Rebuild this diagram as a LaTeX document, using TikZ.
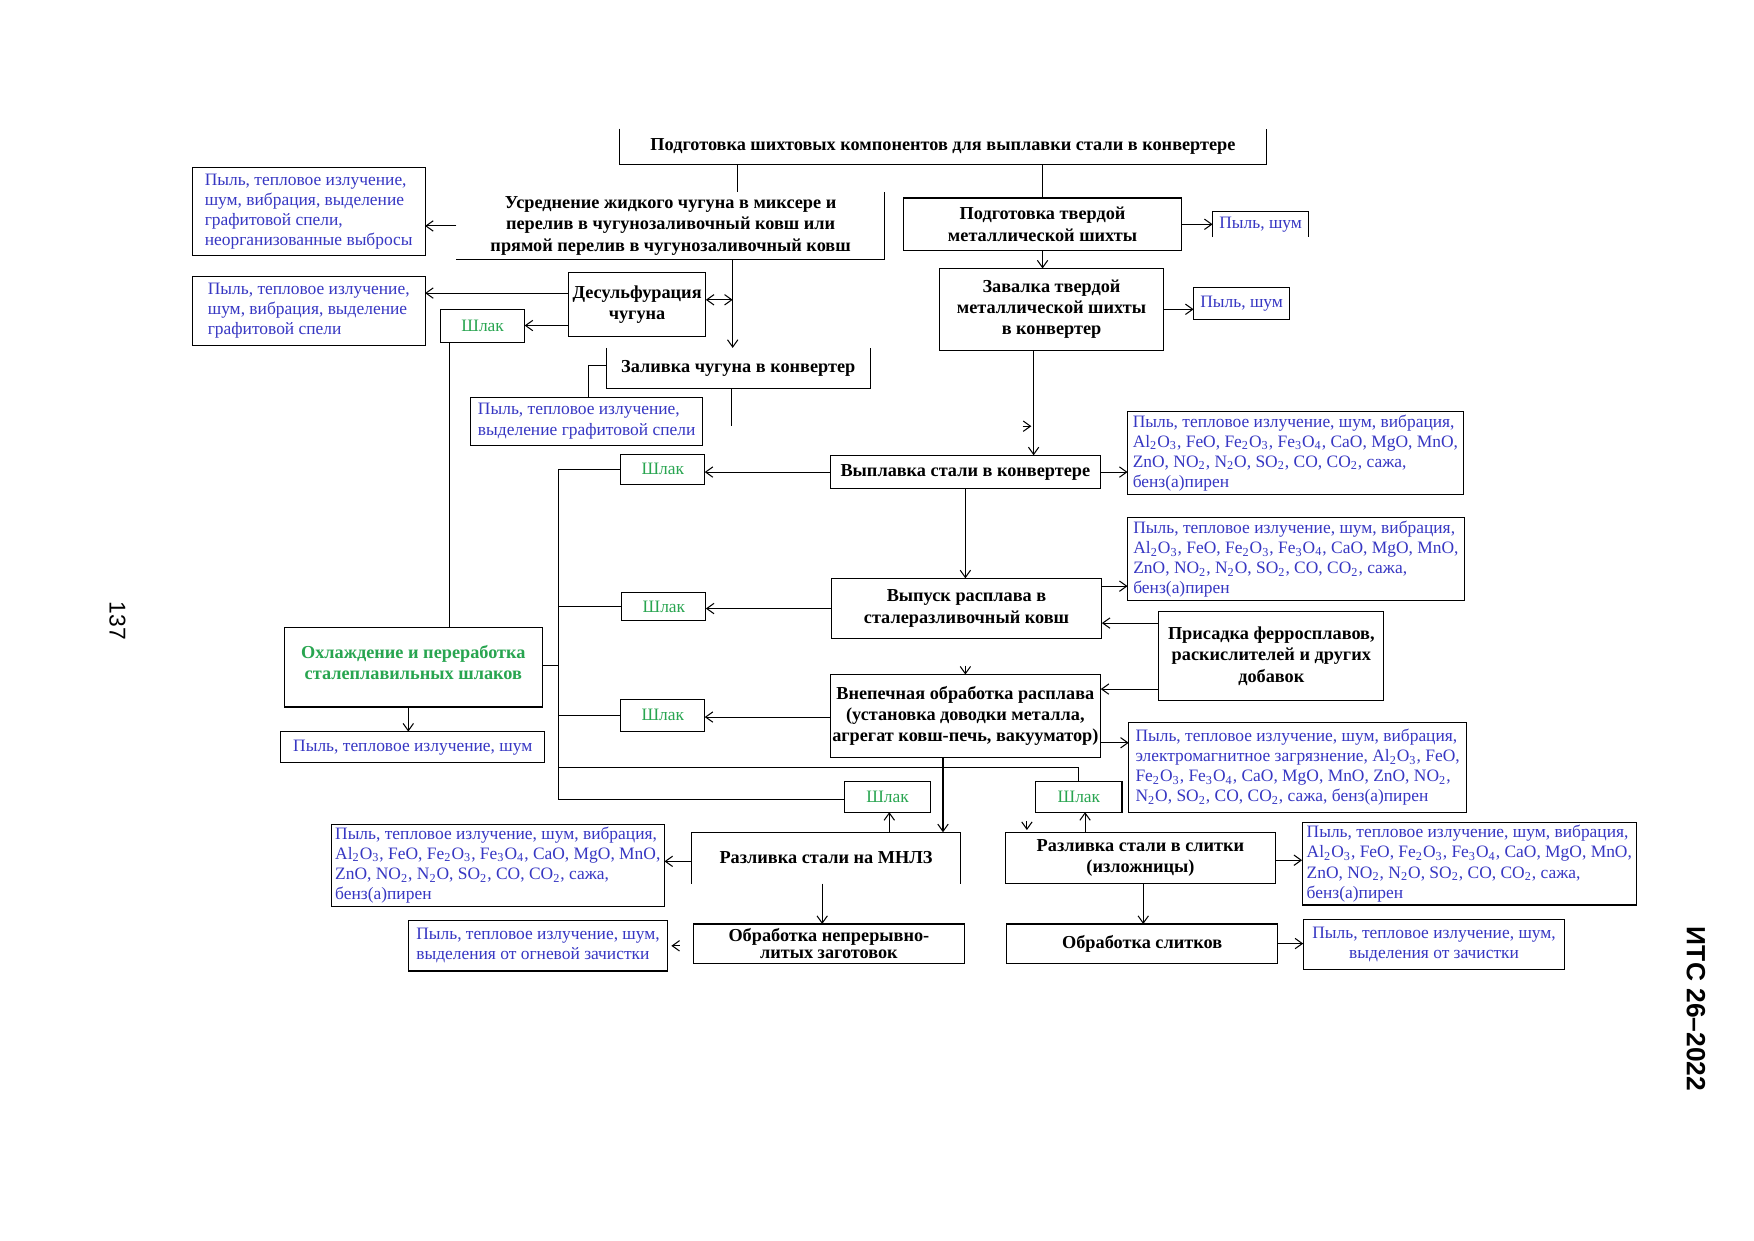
\documentclass[tikz,border=0pt]{standalone}
\usepackage{fontspec}
\setmainfont{Liberation Serif}
\newfontfamily\sidefont{Liberation Sans}
\usetikzlibrary{positioning, arrows.meta}
\definecolor{emisblue}{RGB}{55,55,195}
\definecolor{slaggreen}{RGB}{40,165,80}
\newcommand{\pxu}{0.18941mm}
\newcommand{\sbs}[1]{\textsubscript{#1}}
\newcommand{\stagefont}{\fontsize{8.8}{10.2}\selectfont\bfseries}
\newcommand{\emisfont}{\fontsize{8.4}{9.7}\selectfont}
\newcommand{\bofgas}{Пыль, тепловое излучение, шум, вибрация,\\Al\sbs{2}O\sbs{3}, FeO, Fe\sbs{2}O\sbs{3}, Fe\sbs{3}O\sbs{4}, CaO, MgO, MnO,\\ZnO, NO\sbs{2}, N\sbs{2}O, SO\sbs{2}, CO, CO\sbs{2}, сажа,\\бенз(а)пирен}
\tikzstyle{stage} = [rectangle, draw=black, anchor=north west, align=center, font=\stagefont, inner xsep=1pt, inner ysep=1pt, outer sep=0pt]
\tikzstyle{openstage} = [stage, draw=none]
\tikzstyle{emis} = [rectangle, draw=black, anchor=north west, align=left, font=\emisfont, text=emisblue, inner xsep=1.5pt, inner ysep=1pt, outer sep=0pt]
\tikzstyle{slag} = [emis, align=center, text=slaggreen]
\tikzstyle{arrow} = [->, >={Straight Barb[length=3.5pt,width=5pt]}]
\tikzstyle{darrow} = [<->, >={Straight Barb[length=3.5pt,width=5pt]}]
\tikzset{sz/.style 2 args={minimum width=#1*\pxu, minimum height=#2*\pxu}}

\begin{document}
\begin{tikzpicture}[x=\pxu, y=-\pxu, line width=0.5pt]
  \fill[white] (0,0) rectangle (1568,1109);

  % подготовка шихты
  \node (prep) [openstage, sz={578}{32}] at (554,115) {Подготовка шихтовых компонентов для выплавки стали в конвертере};
  \draw (prep.north west) -- (prep.south west) -- (prep.south east) -- (prep.north east);
  \node (mix) [openstage, sz={383}{60}] at (408,172) {Усреднение жидкого чугуна в миксере и\\перелив в чугунозаливочный ковш или\\прямой перелив в чугунозаливочный ковш};
  \draw (mix.south west) -- (mix.south east) -- (mix.north east);
  \node (emis1) [emis, sz={208}{78}] at (172,150) {Пыль, тепловое излучение,\\шум, вибрация, выделение\\графитовой спели,\\неорганизованные выбросы};
  \node (solid) [stage, sz={248}{47}] at (808,177) {Подготовка твердой\\металлической шихты};
  \node (dust1) [emis, draw=none, sz={86}{23}] at (1084,189) {Пыль, шум};
  \draw (dust1.south west) -- (dust1.north west) -- (dust1.north east) -- (dust1.south east);
  \node (charge) [stage, sz={200}{73}] at (840,240) {Завалка твердой\\металлической шихты\\в конвертер};
  \node (dust2) [emis, sz={86}{29}] at (1067,257) {Пыль, шум};

  % чугун
  \node (desulf) [stage, sz={123}{57}] at (508,244) {Десульфурация\\чугуна};
  \node (emis2) [emis, sz={208}{62}] at (172,247) {Пыль, тепловое излучение,\\шум, вибрация, выделение\\графитовой спели};
  \node (slag1) [slag, sz={75}{29}] at (394,277) {Шлак};
  \node (pour) [openstage, sz={236}{36}] at (542,311) {Заливка чугуна в конвертер};
  \draw (pour.north west) -- (pour.south west) -- (pour.south east) -- (pour.north east);
  \node (emis3) [emis, sz={207}{43}] at (421,355) {Пыль, тепловое излучение,\\выделение графитовой спели};

  % конвертер и ковш
  \node (bof) [stage, sz={242}{30}] at (742,407) {Выплавка стали в конвертере};
  \node (emis4) [emis, sz={300}{74}] at (1008,368) {\bofgas};
  \node (slag2) [slag, sz={75}{27}] at (555,406) {Шлак};
  \node (tap) [stage, sz={242}{54}] at (743,517) {Выпуск расплава в\\сталеразливочный ковш};
  \node (emis5) [emis, sz={301}{74}] at (1008,463) {\bofgas};
  \node (slag3) [slag, sz={75}{25}] at (556,530) {Шлак};
  \node (alloy) [stage, sz={201}{79}] at (1036,547) {Присадка ферросплавов,\\раскислителей и других\\добавок};
  \node (ladle) [stage, sz={242}{74}] at (742,603) {Внепечная обработка расплава\\(установка доводки металла,\\агрегат ковш-печь, вакууматор)};
  \node (emis6) [emis, sz={302}{80}] at (1009,646) {Пыль, тепловое излучение, шум, вибрация,\\электромагнитное загрязнение, Al\sbs{2}O\sbs{3}, FeO,\\Fe\sbs{2}O\sbs{3}, Fe\sbs{3}O\sbs{4}, CaO, MgO, MnO, ZnO, NO\sbs{2},\\N\sbs{2}O, SO\sbs{2}, CO, CO\sbs{2}, сажа, бенз(а)пирен};
  \node (slag4) [slag, sz={75}{29}] at (555,625) {Шлак};

  % шлаки
  \node (cool) [stage, text=slaggreen, text depth=5pt, sz={231}{71}] at (254,561) {Охлаждение и переработка\\сталеплавильных шлаков};
  \node (emis7) [emis, sz={236}{28}] at (251,654) {Пыль, тепловое излучение, шум};
  \node (slag5) [slag, sz={77}{27}] at (755,699) {Шлак};
  \node (slag6) [slag, sz={77}{27}] at (926,699) {Шлак};

  % разливка
  \node (mnlz) [openstage, sz={241}{46}] at (618,744) {Разливка стали на МНЛЗ};
  \draw (mnlz.south west) -- (mnlz.north west) -- (mnlz.north east) -- (mnlz.south east);
  \node (emis8) [emis, sz={298}{73}] at (296,737) {\bofgas};
  \node (obr1) [stage, font=\fontsize{8.8}{8}\selectfont\bfseries, sz={242}{35}] at (620,826) {Обработка непрерывно-\\литых заготовок};
  \node (emis9) [emis, sz={232}{45}] at (365,823) {Пыль, тепловое излучение, шум,\\выделения от огневой зачистки};
  \node (ingot) [stage, sz={241}{46}] at (899,744) {Разливка стали в слитки\\(изложницы)};
  \node (emis10) [emis, sz={299}{74}] at (1164,735) {\bofgas};
  \node (obr2) [stage, sz={242}{35}] at (900,826) {Обработка слитков};
  \node (emis11) [emis, align=center, sz={234}{45}] at (1165,822) {Пыль, тепловое излучение, шум,\\выделения от зачистки};

  % номер страницы и шифр
  \node (page) [rotate=-90, font=\sidefont\fontsize{11}{13}\selectfont] at (105,555) {137};
  \node (doc) [rotate=-90, font=\sidefont\bfseries\fontsize{12.7}{14}\selectfont] at (1516,902) {ИТС 26–2022};

  % соединения
  \coordinate (ironline) at (655,268);
  \coordinate (pourend) at (654,381);
  \coordinate (busend) at (499,715);
  \draw (prep.south -| 659,0) -- (mix.north -| 659,0);
  \draw (prep.south -| solid.north) -- (solid.north);
  \draw [arrow](mix.west) -- (mix.west -| emis1.east);
  \draw [arrow](solid.east) -- (solid.east -| dust1.west);
  \draw [arrow](solid.south) -- (solid.south |- charge.north);
  \draw [arrow](charge.east) -- (charge.east -| dust2.west);
  \draw [arrow](charge.south -| 924,0) -- (bof.north -| 924,0);
  \draw [arrow](mix.south -| ironline) -- (pour.north -| ironline);
  \draw [darrow](desulf.east |- ironline) -- (ironline);
  \draw [arrow](desulf.west |- 0,262) -- (emis2.east |- 0,262);
  \draw [arrow](desulf.west |- 0,291) -- (slag1.east |- 0,291);
  \draw (slag1.south -| 402,0) -- (cool.north -| 402,0);
  \draw (pour.west |- 0,327) -| (emis3.north -| 526,0);
  \draw (pour.south -| pourend) -- (pourend);
  \draw [arrow](bof.east) -- (bof.east -| emis4.west);
  \draw [arrow](bof.west) -- (bof.west -| slag2.east);
  \draw [arrow](bof.south) -- (bof.south |- tap.north);
  \draw (slag2.west) -| (busend) -- (busend -| slag5.west);
  \draw [arrow](tap.east |- 0,524) -- (emis5.west |- 0,524);
  \draw [arrow](tap.west) -- (tap.west -| slag3.east);
  \draw (slag3.west) -- (slag3.west -| busend);
  \draw [arrow](alloy.west |- 0,557) -- (tap.east |- 0,557);
  \draw [arrow](alloy.west |- 0,616) -- (ladle.east |- 0,616);
  \draw [arrow](ladle.east |- 0,664) -- (emis6.west |- 0,664);
  \draw [arrow](ladle.west |- 0,641) -- (slag4.east |- 0,641);
  \draw (slag4.west) -- (slag4.west -| busend);
  \draw (cool.east |- 0,595) -- (busend |- 0,595);
  \draw [arrow](cool.south -| 365,0) -- (emis7.north -| 365,0);
  \draw (busend |- 0,686) -| (slag6.north -| 964,0);
  \draw [arrow](ladle.south -| 843,0) -- (mnlz.north -| 843,0);
  \draw [arrow](mnlz.north -| 795,0) -- (slag5.south -| 795,0);
  \draw [arrow](mnlz.west |- 0,770) -- (emis8.east |- 0,770);
  \draw [arrow](mnlz.south -| 735,0) -- (obr1.north -| 735,0);
  \draw [arrow](ingot.north -| 970,0) -- (slag6.south -| 970,0);
  \draw [arrow](ingot.east |- 0,769) -- (emis10.west |- 0,769);
  \draw [arrow](ingot.south -| 1022,0) -- (obr2.north -| 1022,0);
  \draw [arrow](obr2.east) -- (obr2.east -| emis11.west);

  % одиночные стрелки
  \coordinate (tipa) at (922,381);
  \coordinate (tipc) at (918,742);
  \draw [arrow]([xshift=-1.5mm]tipa) -- (tipa);
  \draw [arrow]([yshift=1.5mm]ladle.north) -- (ladle.north);
  \draw [arrow]([yshift=1.5mm]tipc) -- (tipc);
  \draw [arrow]([xshift=2mm]emis9.east) -- ([xshift=0.6mm]emis9.east);
\end{tikzpicture}
\end{document}
